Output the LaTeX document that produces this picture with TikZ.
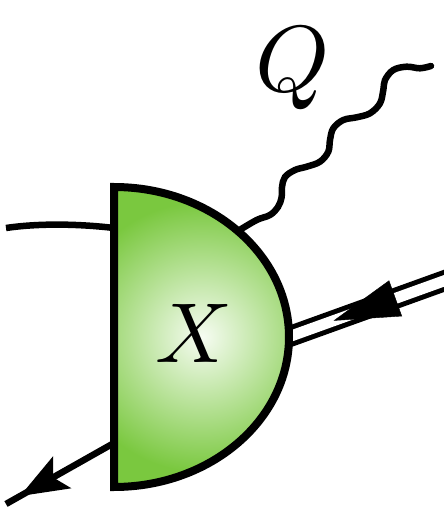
\documentclass[tikz,border=0pt]{standalone}
\DeclareFontShape{OML}{cmm}{m}{it}{<->cmmi10}{}
\DeclareFontShape{OMS}{cmsy}{m}{n}{<->cmsy10}{}
\usetikzlibrary{arrows.meta,decorations.markings}
\definecolor{blobgreen}{RGB}{122,200,63}
\definecolor{blobcore}{RGB}{246,252,242}
\begin{document}
\begin{tikzpicture}[x=1pt,y=1pt,
  line/.style={line width=6.5pt},
  outline/.style={line width=8pt, line join=miter},
  lblx/.style={font=\fontsize{85pt}{85pt}\selectfont, inner sep=0pt, anchor=base},
  lblq/.style={font=\fontsize{94pt}{94pt}\selectfont, inner sep=0pt, anchor=base},
  dline/.style={line width=5pt, double=white, double distance=11pt}]
\useasboundingbox (0,0) rectangle (444,507);
\clip (0,0) rectangle (444,507);
% coordinates
\coordinate (btop) at (114,320);
\coordinate (bbot) at (114,20);
\coordinate (L) at (6,279);
\coordinate (Lin) at (114,279);
\coordinate (D) at (6,3);
\coordinate (Din) at (114,64);
\coordinate (R) at (452,229);
\coordinate (Rin) at (280,167);
\coordinate (P) at (238,276);
\coordinate (Pend) at (431,441);
% connectors
\draw[line] (L) .. controls (40,284) and (80,283) .. (Lin);
\draw[line, postaction={decorate}, decoration={markings, mark=at position 108pt with {\arrow{Stealth[length=48pt,width=36pt,inset=10pt]}}}] (Din) -- (D);
\draw[dline] (R) -- (Rin);
\path[decoration={markings, mark=at position 126pt with {\arrow{Stealth[length=66pt,width=38pt,inset=0pt]}}}, decorate] (R) -- (Rin);
\draw[line, line cap=round] plot[smooth, tension=0.6] coordinates {(P) (256.7,287) (270,292) (278,300) (281.7,310) (282,320) (285,330) (295,337) (306.7,340.3) (320,345.3) (328.3,355.3) (330,367) (333.3,378.7) (343.3,387) (356.7,389.7) (370,393.7) (380,403.7) (383.3,417) (385,427) (393.3,437) (406.7,440.3) (420,438.7) (Pend)};
% blob
\fill[blobgreen] (bbot) -- (btop) arc[start angle=90, end angle=-90, x radius=175, y radius=150] -- cycle;
\begin{scope}
  \clip (bbot) -- (btop) arc[start angle=90, end angle=-90, x radius=175, y radius=150] -- cycle;
  \shade[inner color=blobcore, outer color=blobgreen] (202,170) circle (135);
\end{scope}
\draw[outline] (bbot) -- (btop) arc[start angle=90, end angle=-90, x radius=175, y radius=150] -- cycle;
% labels
\node[lblx] (X) at (194,144.5) {$X$};
\node[lblq] (Q) at (293,415) {$Q$};
\end{tikzpicture}
\end{document}
